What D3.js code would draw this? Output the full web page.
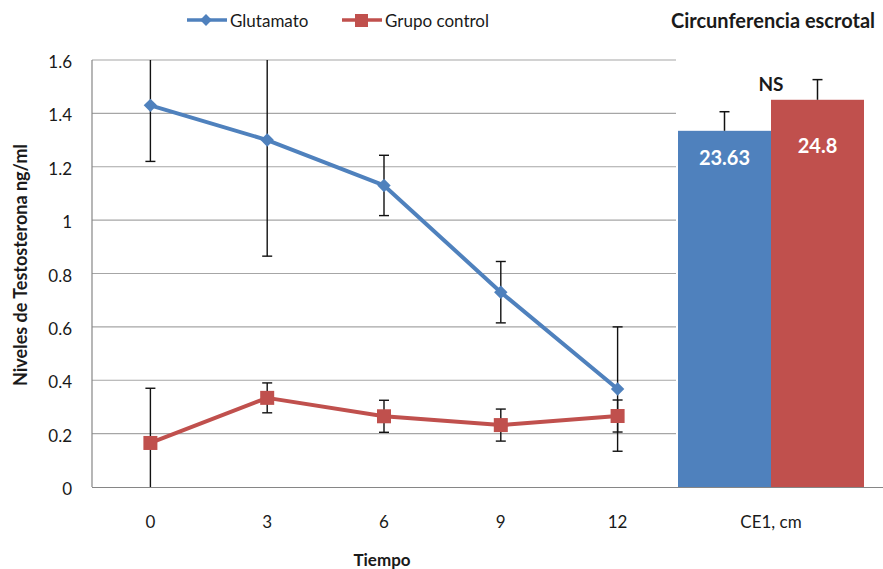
<!DOCTYPE html>
<html>
<head>
<meta charset="utf-8">
<script src="https://cdn.jsdelivr.net/npm/d3@7/dist/d3.min.js"></script>
<style>
  body { margin: 0; background: #fff; }
  svg text { font-family: Lato, "Open Sans", sans-serif; fill: #1a1a1a; }
</style>
</head>
<body>
<svg id="chart" width="883" height="569"></svg>
<script>
// data
const tiempos = ["0", "3", "6", "9", "12"];
const glutamato = [1.43, 1.30, 1.13, 0.73, 0.367];
const glutamatoErr = [0.21, 0.435, 0.113, 0.115, 0.233];
const control = [0.165, 0.334, 0.265, 0.232, 0.266];
const controlErr = [0.205, 0.056, 0.06, 0.06, 0.06];
const yTicks = [0, 0.2, 0.4, 0.6, 0.8, 1, 1.2, 1.4, 1.6];

// circunferencia escrotal (cm)
const ceGrupos = ["Glutamato", "Grupo control"];
const ceValores = [23.63, 24.8];
const ceErr = [0.72, 0.76];

const blue = "#4f81bd", red = "#c0504d";
const svg = d3.select("#chart");

const mLeft = 92, mRight = 676, mTop = 60, mBottom = 487;

const x = d3.scaleBand().domain(tiempos).range([mLeft, mRight]);
const cx = i => x(tiempos[i]) + x.bandwidth() / 2;
const y = d3.scaleLinear().domain([0, 1.6]).range([mBottom, mTop]);

// bar part has its own value axis (not shown)
const xb = d3.scaleBand().domain(ceGrupos).range([678, 864]);
const yb = d3.scaleLinear().domain([10.2, 26.3]).range([mBottom, mTop]);

// gridlines
svg.append("g").selectAll("line").data(yTicks.filter(d => d > 0)).join("line")
  .attr("x1", mLeft).attr("x2", mRight)
  .attr("y1", d => y(d)).attr("y2", d => y(d))
  .attr("stroke", "#a6a6a6").attr("stroke-width", 1.2);

// y axis labels
svg.append("g").selectAll("text").data(yTicks).join("text")
  .attr("x", 72).attr("y", d => y(d) + 8)
  .attr("text-anchor", "end").attr("font-size", 17)
  .text(d => d);

// bars
svg.append("g").selectAll("rect").data(ceValores).join("rect")
  .attr("x", (d, i) => xb(ceGrupos[i]))
  .attr("width", xb.bandwidth())
  .attr("y", d => yb(d))
  .attr("height", d => mBottom - yb(d))
  .attr("fill", (d, i) => i === 0 ? blue : red);

// bar error bars (upper only visible)
ceValores.forEach((v, i) => {
  const bx = xb(ceGrupos[i]) + xb.bandwidth() / 2;
  const g = svg.append("g").attr("stroke", "#111").attr("stroke-width", 1.5);
  g.append("line").attr("x1", bx).attr("x2", bx).attr("y1", yb(v)).attr("y2", yb(v + ceErr[i]));
  g.append("line").attr("x1", bx - 5).attr("x2", bx + 5).attr("y1", yb(v + ceErr[i])).attr("y2", yb(v + ceErr[i]));
});

const labelDy = [34, 53];
svg.append("g").selectAll("text").data(ceValores).join("text")
  .attr("x", (d, i) => xb(ceGrupos[i]) + xb.bandwidth() / 2)
  .attr("y", (d, i) => yb(d) + labelDy[i])
  .attr("text-anchor", "middle").attr("font-size", 20).attr("font-weight", "bold")
  .style("fill", "#fff")
  .text(d => d);

svg.append("text").attr("x", 771).attr("y", 91)
  .attr("text-anchor", "middle").attr("font-size", 19).attr("font-weight", "bold")
  .text("NS");

// axes lines
svg.append("line").attr("x1", mLeft).attr("x2", mLeft).attr("y1", mTop).attr("y2", mBottom)
  .attr("stroke", "#868686").attr("stroke-width", 1.2);
svg.append("line").attr("x1", mLeft).attr("x2", 883).attr("y1", mBottom + 0.5).attr("y2", mBottom + 0.5)
  .attr("stroke", "#868686").attr("stroke-width", 1.2);

// error bars for the lines, clipped to the plot
svg.append("clipPath").attr("id", "plot")
  .append("rect").attr("x", mLeft).attr("y", mTop).attr("width", mRight - mLeft).attr("height", mBottom - mTop);

function errorBars(vals, errs) {
  const g = svg.append("g").attr("clip-path", "url(#plot)")
    .attr("stroke", "#111").attr("stroke-width", 1.4);
  vals.forEach((v, i) => {
    const px = cx(i);
    g.append("line").attr("x1", px).attr("x2", px).attr("y1", y(v - errs[i])).attr("y2", y(v + errs[i]));
    [v - errs[i], v + errs[i]].forEach(e => {
      g.append("line").attr("x1", px - 5).attr("x2", px + 5).attr("y1", y(e)).attr("y2", y(e));
    });
  });
}
errorBars(glutamato, glutamatoErr);
errorBars(control, controlErr);

const line = d3.line().x((d, i) => cx(i)).y(d => y(d));
svg.append("path").datum(control).attr("d", line)
  .attr("fill", "none").attr("stroke", red).attr("stroke-width", 4).attr("stroke-linejoin", "round");
svg.append("path").datum(glutamato).attr("d", line)
  .attr("fill", "none").attr("stroke", blue).attr("stroke-width", 4).attr("stroke-linejoin", "round");

svg.append("g").selectAll("rect").data(control).join("rect")
  .attr("x", (d, i) => cx(i) - 7).attr("y", d => y(d) - 7)
  .attr("width", 14).attr("height", 14).attr("fill", red);
svg.append("g").selectAll("path").data(glutamato).join("path")
  .attr("transform", (d, i) => `translate(${cx(i)},${y(d)}) rotate(45)`)
  .attr("d", d3.symbol().type(d3.symbolSquare).size(90)).attr("fill", blue);

// x labels
svg.append("g").selectAll("text").data(tiempos).join("text")
  .attr("x", (d, i) => cx(i)).attr("y", 528)
  .attr("text-anchor", "middle").attr("font-size", 17)
  .text(d => d);
svg.append("text").attr("x", 771).attr("y", 528)
  .attr("text-anchor", "middle").attr("font-size", 17).text("CE1, cm");

// axis titles
svg.append("text").attr("x", 382).attr("y", 566)
  .attr("text-anchor", "middle").attr("font-size", 17).attr("font-weight", "bold")
  .text("Tiempo");
svg.append("text").attr("transform", "translate(27,265) rotate(-90)")
  .attr("text-anchor", "middle").attr("font-size", 18).attr("font-weight", "bold")
  .text("Niveles de Testosterona  ng/ml");

svg.append("text").attr("x", 773).attr("y", 28)
  .attr("text-anchor", "middle").attr("font-size", 20).attr("font-weight", "bold")
  .text("Circunferencia escrotal");

// legend
const legend = [
  { name: "Glutamato", color: blue, x0: 187, mark: "diamond" },
  { name: "Grupo control", color: red, x0: 342, mark: "square" }
];
legend.forEach(l => {
  const g = svg.append("g");
  g.append("line").attr("x1", l.x0).attr("x2", l.x0 + 40).attr("y1", 20).attr("y2", 20)
    .attr("stroke", l.color).attr("stroke-width", 3.5);
  if (l.mark === "diamond") {
    g.append("path").attr("transform", `translate(${l.x0 + 19},20) rotate(45)`)
      .attr("d", d3.symbol().type(d3.symbolSquare).size(70)).attr("fill", l.color);
  } else {
    g.append("rect").attr("x", l.x0 + 13).attr("y", 14).attr("width", 13).attr("height", 13).attr("fill", l.color);
  }
  g.append("text").attr("x", l.x0 + 43).attr("y", 27).attr("font-size", 17).text(l.name);
});
</script>
</body>
</html>
